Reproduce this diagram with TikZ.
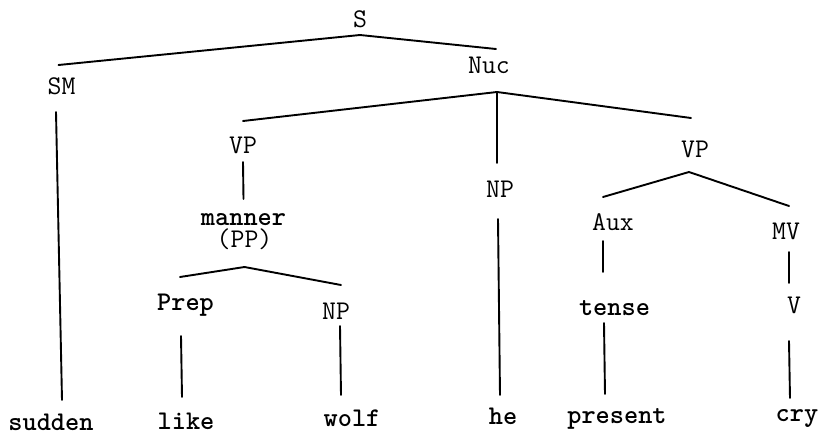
\documentclass[tikz,border=0pt]{standalone}
\begin{document}
\begin{tikzpicture}[x=1pt,y=-1pt,
  lab/.style={anchor=base,inner sep=0pt,outer sep=0pt,text height=14pt,text depth=0pt,
    font=\ttfamily\fontsize{27}{30}\selectfont},
  blab/.style={lab,font=\ttfamily\bfseries\fontsize{27}{30}\selectfont},
  branch/.style={line width=1.9pt,line cap=round,line join=round}]
\useasboundingbox (0,0) rectangle (823,434);
% nodes (positions are baselines)
\node[lab]  (S)     at (360,27)   {S};
\node[lab]  (SM)    at (61.5,94)  {SM};
\node[lab]  (Nuc)   at (489,73)   {Nuc};
\node[lab]  (VPa)   at (243,153)  {VP};
\node[lab]  (NPa)   at (500,197)  {NP};
\node[lab]  (VPb)   at (695,157)  {VP};
\node[blab] (man)   at (243.5,225){manner};
\node[lab]  (PP)    at (244.5,247.5){(PP)};
\node[blab] (Prep)  at (185.5,310){Prep};
\node[lab]  (NPb)   at (336,319)  {NP};
\node[lab]  (Aux)   at (613,230)  {Aux};
\node[lab]  (MV)    at (786,239)  {MV};
\node[blab] (tense) at (614.5,315.5){tense};
\node[lab]  (V)     at (794,313)  {V};
\node[blab] (sudden)  at (51,430)  {sudden};
\node[blab] (like)    at (186,429) {like};
\node[blab] (wolf)    at (352,426) {wolf};
\node[blab] (he)      at (503,424) {he};
\node[blab] (present) at (617,423) {present};
\node[blab] (cry)     at (797,421) {cry};
% branches
\draw[branch] ([xshift=-3pt,yshift=15pt]SM.north) -- ([yshift=-8pt]S.south) -- ([xshift=7pt,yshift=10pt]Nuc.north);
\draw[branch] ([xshift=-5.5pt,yshift=-18pt]SM.south) -- ([xshift=11pt,yshift=16pt]sudden.north);
\draw[branch] ([yshift=18pt]VPa.north) -- ([xshift=8pt,yshift=-19pt]Nuc.south) -- ([xshift=-4pt,yshift=25pt]VPb.north);
\draw[branch] ([xshift=8pt,yshift=-19pt]Nuc.south) -- ([xshift=-3pt,yshift=20pt]NPa.north);
\draw[branch] ([yshift=-9pt]VPa.south) -- ([yshift=12pt]man.north);
\draw[branch] ([xshift=-5.5pt,yshift=19pt]Prep.north) -- ([yshift=-19.5pt]PP.south) -- ([xshift=5pt,yshift=20pt]NPb.north);
\draw[branch] ([xshift=-4.5pt,yshift=-26pt]Prep.south) -- ([xshift=-4pt,yshift=18pt]like.north);
\draw[branch] ([xshift=4pt,yshift=-7pt]NPb.south) -- ([xshift=-11pt,yshift=17pt]wolf.north);
\draw[branch] ([xshift=-2pt,yshift=-22pt]NPa.south) -- ([xshift=-3pt,yshift=15pt]he.north);
\draw[branch] ([xshift=-10pt,yshift=19pt]Aux.north) -- ([xshift=-6pt,yshift=-15pt]VPb.south) -- ([xshift=3pt,yshift=19pt]MV.north);
\draw[branch] ([xshift=-10pt,yshift=-11pt]Aux.south) -- ([xshift=-11.5pt,yshift=29.5pt]tense.north);
\draw[branch] ([xshift=-10.5pt,yshift=-7.5pt]tense.south) -- ([xshift=-12pt,yshift=15pt]present.north);
\draw[branch] ([xshift=3pt,yshift=-13pt]MV.south) -- ([xshift=-5pt,yshift=16pt]V.north);
\draw[branch] ([xshift=-5pt,yshift=-28pt]V.south) -- ([xshift=-7pt,yshift=9pt]cry.north);
\end{tikzpicture}
\end{document}
